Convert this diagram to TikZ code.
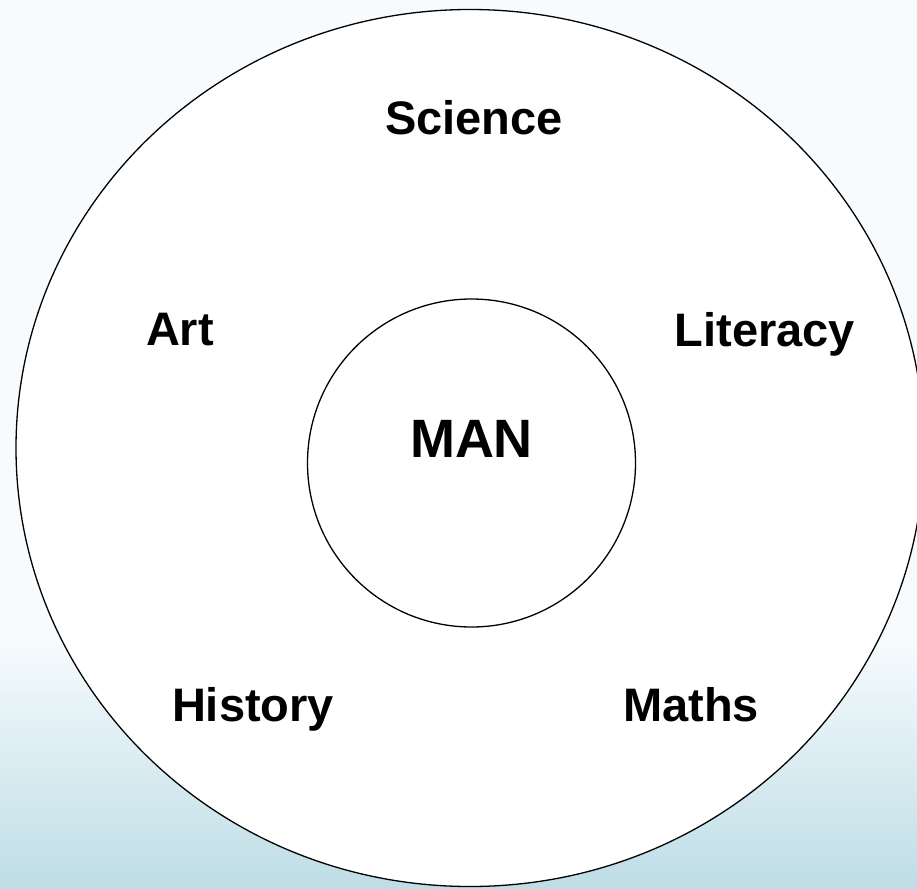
\documentclass[tikz,border=0pt]{standalone}
\usepackage{fontspec}
\setmainfont{Liberation Sans}
\usetikzlibrary{shapes.geometric}
\definecolor{bgtop}{HTML}{F7FBFD}
\definecolor{bgbot}{HTML}{BEDDE6}
\tikzset{
  ring/.style={draw=black, line width=1.3pt, fill=white, inner sep=0pt},
  subject/.style={anchor=base, inner sep=0pt, font=\fontsize{47}{47}\selectfont\bfseries},
  core/.style={anchor=base, inner sep=0pt, font=\fontsize{54}{54}\selectfont\bfseries}
}
\begin{document}
\begin{tikzpicture}[x=1pt,y=-1pt]
\useasboundingbox (0,0) rectangle (917,888);
\fill[bgtop] (0,0) rectangle (917,640);
\shade[top color=bgtop, bottom color=bgbot] (0,639) rectangle (917,888);
\begin{scope}
\clip (0,0) rectangle (917,888);
\node[ring, ellipse, minimum width=908pt, minimum height=877pt] (outer) at (470,448) {};
\end{scope}
\node[ring, circle, minimum size=328pt] (inner) at (471.5,463) {};
\node[subject] (science) at (474,135) {Science};
\node[subject] (art) at (180,345) {Art};
\node[subject] (literacy) at (765,346) {Literacy};
\node[core] (man) at (471.5,457) {MAN};
\node[subject] (history) at (253,721) {History};
\node[subject] (maths) at (691,721) {Maths};
\end{tikzpicture}
\end{document}
